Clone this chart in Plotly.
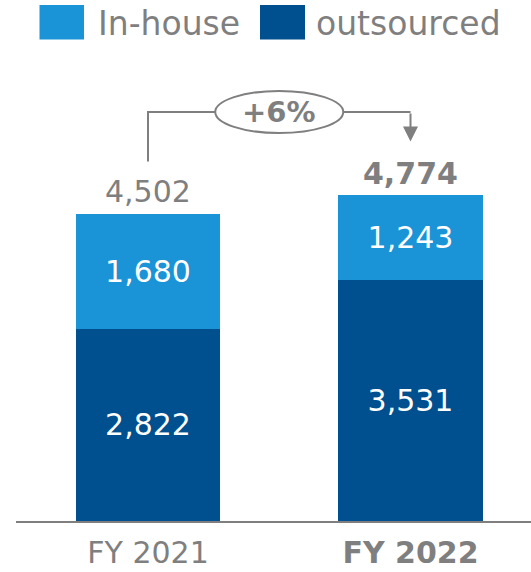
import plotly.graph_objects as go

# ---- data ----
categories = ["FY 2021", "FY 2022"]
tick_labels = ["FY 2021", "<b>FY 2022</b>"]
outsourced = [2822, 3531]
in_house = [1680, 1243]
totals = [4502, 4774]
total_labels = ["4,502", "<b>4,774</b>"]
growth_label = "<b>+6%</b>"
series_names = ["In-house", "outsourced"]

# ---- style ----
LIGHT = "#1a93d7"
DARK = "#004f8e"
GREY = "#7f7f7f"
FONT = "DejaVu Sans"
W, H = 531, 572
ML, MR, MT, MB = 16, 0, 0, 51
PW, PH = W - ML - MR, H - MT - MB

def xp(px):
    return (px - ML) / PW

def yp(py):
    return (H - MB - py) / PH

xs = list(range(len(categories)))

fig = go.Figure()
fig.add_trace(go.Bar(
    x=xs, y=outsourced, name=series_names[1], marker_color=DARK,
    width=0.552, text=[f"{v:,}" for v in outsourced], textposition="inside",
    insidetextanchor="middle", textfont=dict(color="white", size=30, family=FONT),
    marker_line_width=0, showlegend=False, hoverinfo="skip"))
fig.add_trace(go.Bar(
    x=xs, y=in_house, name=series_names[0], marker_color=LIGHT,
    width=0.552, text=[f"{v:,}" for v in in_house], textposition="inside",
    insidetextanchor="middle", textfont=dict(color="white", size=30, family=FONT),
    marker_line_width=0, showlegend=False, hoverinfo="skip"))

annotations = []
for x, t, lab in zip(xs, totals, total_labels):
    annotations.append(dict(x=x, y=t, text=lab, showarrow=False, yanchor="middle",
                            yshift=22, font=dict(size=30, color=GREY, family=FONT)))

# bracket with growth
y_start = totals[0] + 770
y_top = max(totals) + 1223
y_tip = totals[1] + 790
shapes = [
    dict(type="path", xref="x", yref="y",
         path=f"M{xs[0]},{y_start} V{y_top} H{xs[1]}",
         line=dict(color=GREY, width=2), layer="above"),
    dict(type="circle", xref="x", yref="y", xsizemode="pixel", ysizemode="pixel",
         xanchor=(xs[0] + xs[1]) / 2, yanchor=y_top, x0=-64, x1=64, y0=-21, y1=21,
         line=dict(color=GREY, width=2), fillcolor="white", layer="above"),
]
annotations.append(dict(x=xs[1], y=y_tip, ax=xs[1], ay=y_top, axref="x", ayref="y",
                        xref="x", yref="y", text="", showarrow=True, arrowhead=2,
                        arrowsize=1.5, arrowwidth=2, arrowcolor=GREY))
annotations.append(dict(x=(xs[0] + xs[1]) / 2, y=y_top, text=growth_label, showarrow=False,
                        font=dict(size=29, color=GREY, family=FONT), yanchor="middle"))

# legend drawn manually (large squares)
leg = [(39.5, 84, LIGHT, 96, series_names[0]), (260, 305, DARK, 314, series_names[1])]
for x0, x1, col, tx, name in leg:
    shapes.append(dict(type="rect", xref="paper", yref="paper",
                       x0=xp(x0), x1=xp(x1), y0=yp(39.5), y1=yp(5),
                       fillcolor=col, line_width=0))
    annotations.append(dict(xref="paper", yref="paper", x=xp(tx), y=yp(23),
                            xanchor="left", yanchor="middle", text=name, showarrow=False,
                            font=dict(size=33, color=GREY, family=FONT)))

fig.update_layout(
    barmode="stack", width=W, height=H,
    margin=dict(l=ML, r=MR, t=MT, b=MB),
    paper_bgcolor="white", plot_bgcolor="white",
    shapes=shapes, annotations=annotations, showlegend=False,
    xaxis=dict(range=[-(148 - ML) / 262.5, (W - 148) / 262.5], tickvals=xs,
               ticktext=tick_labels, showgrid=False, zeroline=False,
               showline=True, linecolor=GREY, linewidth=2, ticklabelstandoff=4,
               tickfont=dict(size=30, color=GREY, family=FONT), ticks=""),
    yaxis=dict(range=[0, PH / 0.0682], visible=False, showgrid=False),
)

fig.write_html("out.html", config={"displayModeBar": False},
               post_script="document.body.style.margin='0';")
